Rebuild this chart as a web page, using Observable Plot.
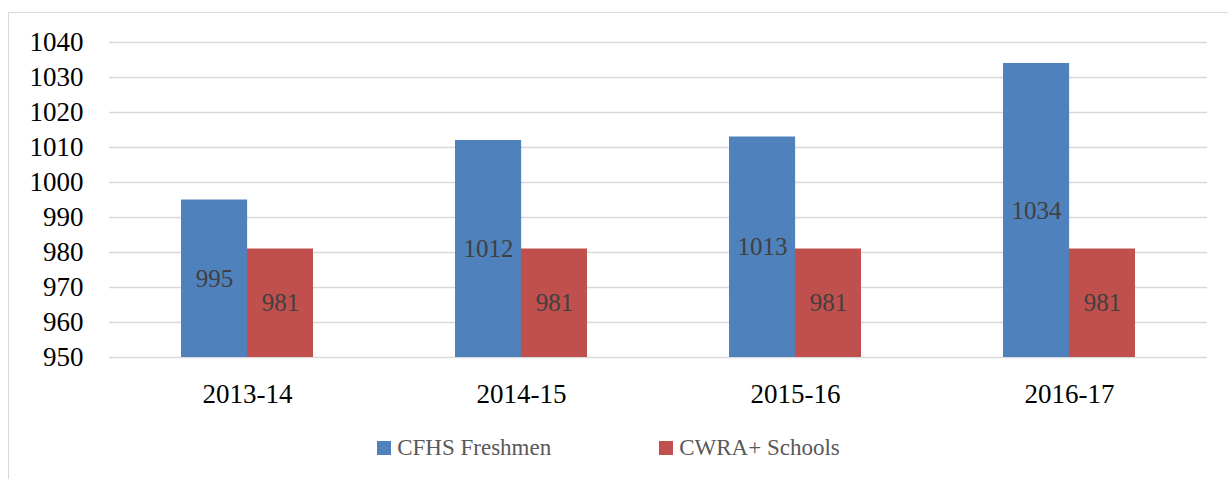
<!DOCTYPE html>
<html><head><meta charset="utf-8">
<script src="https://cdn.jsdelivr.net/npm/d3@7"></script>
<script src="https://cdn.jsdelivr.net/npm/@observablehq/plot@0.6"></script>
<style>
html,body{margin:0;padding:0;background:#fff;}
body{width:1228px;height:479px;overflow:hidden;position:relative;font-family:"Liberation Serif","DejaVu Serif",serif;}
#frame{position:absolute;left:8px;top:12px;width:1260px;height:520px;border:1.5px solid #d9d9d9;box-sizing:border-box;}
#chart{position:absolute;left:0;top:0;}
#chart svg text{font-family:"Liberation Serif","DejaVu Serif",serif;}
#legend{position:absolute;left:0;top:434px;width:1217px;height:28px;display:flex;justify-content:center;align-items:center;gap:108px;font-size:23px;color:#595959;}
.item{display:flex;align-items:center;gap:6px;white-space:nowrap;}
.sw{width:14px;height:14px;display:inline-block;}
</style>
</head><body>
<div id="frame"></div>
<div id="chart"></div>
<div id="legend"></div>
<script>
const years = ["2013-14", "2014-15", "2015-16", "2016-17"];
const seriesNames = ["CFHS Freshmen", "CWRA+ Schools"];
const cfhs = [995, 1012, 1013, 1034];
const cwra = [981, 981, 981, 981];
const yTicks = [950, 960, 970, 980, 990, 1000, 1010, 1020, 1030, 1040];
const colors = ["#4f81bd", "#c0504d"];

const yBase = yTicks[0];
const W = 1228, H = 420, mL = 109, mR = 21;
const pInner = 0.52, pOuter = 0.26;
const step = (W - mL - mR) / (years.length - pInner + 2 * pOuter);
const half = step * (1 - pInner) / 2;

const data = years.flatMap((y, i) => [
  {year: y, series: seriesNames[0], value: cfhs[i]},
  {year: y, series: seriesNames[1], value: cwra[i]}
]);
const s0 = data.filter(d => d.series === seriesNames[0]);
const s1 = data.filter(d => d.series === seriesNames[1]);

const chart = Plot.plot({
  width: W, height: H,
  marginLeft: mL, marginRight: mR, marginTop: 42, marginBottom: 63,
  style: {fontFamily: "'Liberation Serif', 'DejaVu Serif', serif", fontSize: "27px", background: "transparent", color: "#000"},
  x: {domain: years, type: "band", paddingInner: pInner, paddingOuter: pOuter, label: null, tickSize: 0, tickPadding: 26},
  y: {domain: [yBase, yTicks[yTicks.length - 1]], ticks: yTicks, tickFormat: d => String(d), label: null, tickSize: 0, tickPadding: 26},
  marks: [
    Plot.ruleY(yTicks, {stroke: "#d9d9d9", strokeWidth: 1.4}),
    Plot.barY(s0, {x: "year", y1: yBase, y2: "value", fill: colors[0], insetRight: half}),
    Plot.barY(s1, {x: "year", y1: yBase, y2: "value", fill: colors[1], insetLeft: half}),
    Plot.text(s0, {x: "year", y: d => (yBase + d.value) / 2, text: d => String(d.value), dx: -half / 2, fill: "#404040", fontSize: 25}),
    Plot.text(s1, {x: "year", y: d => (yBase + d.value) / 2, text: d => String(d.value), dx: half / 2, fill: "#404040", fontSize: 25})
  ]
});
document.getElementById("chart").appendChild(chart);

const legend = document.getElementById("legend");
seriesNames.forEach((name, i) => {
  const it = document.createElement("div");
  it.className = "item";
  const sw = document.createElement("span");
  sw.className = "sw";
  sw.style.background = colors[i];
  const t = document.createElement("span");
  t.textContent = name;
  it.appendChild(sw); it.appendChild(t);
  legend.appendChild(it);
});
</script>
</body></html>
